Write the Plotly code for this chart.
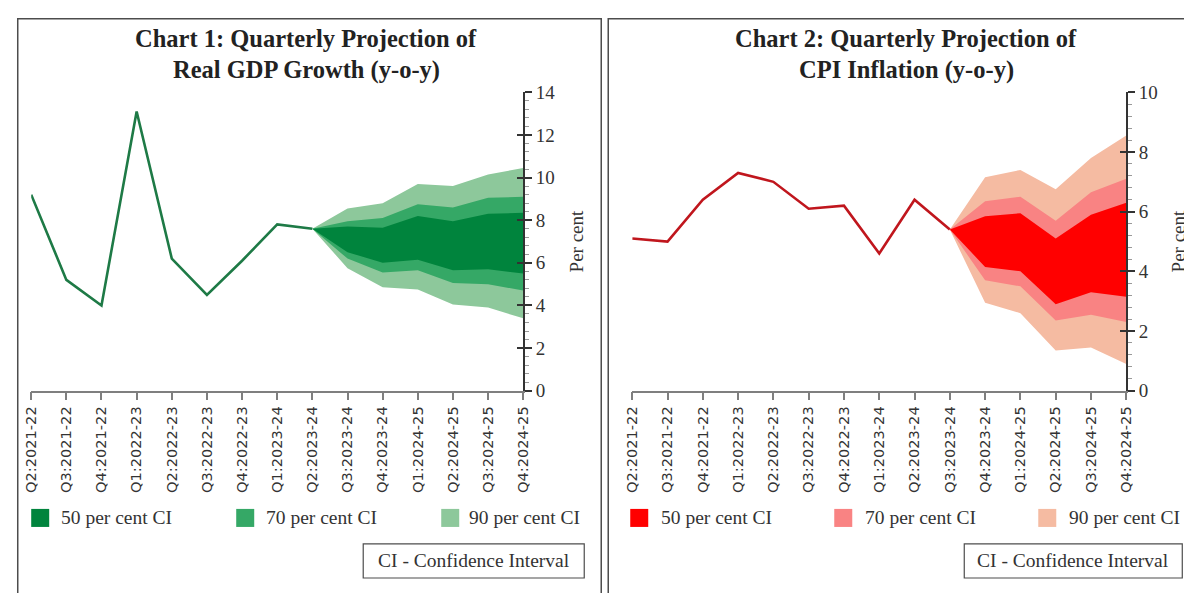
import plotly.graph_objects as go

# Figure is a bit larger than the window; coordinates below are given in
# target-picture pixels and mapped to paper coordinates by px()/py().
W, H = 1220, 625
SX, OX = 0.986, 15.8   # observed placement of the figure in the photographed page
SY, OY = 0.965, 17.8

categories = ["Q2:2021-22", "Q3:2021-22", "Q4:2021-22", "Q1:2022-23", "Q2:2022-23",
              "Q3:2022-23", "Q4:2022-23", "Q1:2023-24", "Q2:2023-24", "Q3:2023-24",
              "Q4:2023-24", "Q1:2024-25", "Q2:2024-25", "Q3:2024-25", "Q4:2024-25"]

# Chart 1: Real GDP growth
gdp_actual = [9.2, 5.2, 4.0, 13.1, 6.2, 4.5, 6.1, 7.8, 7.6]
gdp_fan_cats = categories[8:]
gdp_90_up = [7.6, 8.55, 8.8, 9.7, 9.6, 10.15, 10.45]
gdp_70_up = [7.6, 7.95, 8.1, 8.75, 8.6, 9.05, 9.1]
gdp_50_up = [7.6, 7.7, 7.65, 8.2, 7.95, 8.3, 8.35]
gdp_50_lo = [7.6, 6.5, 6.0, 6.15, 5.65, 5.7, 5.5]
gdp_70_lo = [7.6, 6.2, 5.55, 5.65, 5.05, 5.0, 4.7]
gdp_90_lo = [7.6, 5.75, 4.85, 4.75, 4.05, 3.9, 3.4]

# Chart 2: CPI inflation
cpi_actual = [5.1, 5.0, 6.4, 7.3, 7.0, 6.1, 6.2, 4.6, 6.4, 5.4]
cpi_fan_cats = categories[9:]
cpi_90_up = [5.4, 7.15, 7.4, 6.75, 7.8, 8.55]
cpi_70_up = [5.4, 6.35, 6.5, 5.7, 6.65, 7.1]
cpi_50_up = [5.4, 5.85, 5.95, 5.1, 5.9, 6.3]
cpi_50_lo = [5.4, 4.15, 4.0, 2.9, 3.3, 3.15]
cpi_70_lo = [5.4, 3.7, 3.5, 2.35, 2.55, 2.3]
cpi_90_lo = [5.4, 2.95, 2.6, 1.35, 1.45, 0.9]

ci_labels = ["50 per cent CI", "70 per cent CI", "90 per cent CI"]
green_cols = ["#00843d", "#35a866", "#8dc89b"]
red_cols = ["#ff0000", "#f98383", "#f5bba2"]
green_line = "#1e7a46"
red_line = "#c0161d"

titles = [["Chart 1: Quarterly Projection of", "Real GDP Growth (y-o-y)"],
          ["Chart 2: Quarterly Projection of", "CPI Inflation (y-o-y)"]]

SERIF = "Liberation Serif"
SANS = "DejaVu Sans"

fig = go.Figure()


def fan(xa, ya, cats, bands, cols):
    for (up, lo), col in zip(bands, cols):
        fig.add_trace(go.Scatter(
            x=list(cats) + list(cats[::-1]), y=list(up) + list(lo[::-1]),
            fill="toself", fillcolor=col, mode="lines", line=dict(width=0, color=col),
            xaxis=xa, yaxis=ya, showlegend=False, hoverinfo="skip"))


fig.add_trace(go.Scatter(x=categories, y=[None] * len(categories), xaxis="x", yaxis="y",
                         showlegend=False, mode="markers"))
fig.add_trace(go.Scatter(x=categories, y=[None] * len(categories), xaxis="x2", yaxis="y2",
                         showlegend=False, mode="markers"))

fan("x", "y", gdp_fan_cats,
    [(gdp_90_up, gdp_90_lo), (gdp_70_up, gdp_70_lo), (gdp_50_up, gdp_50_lo)],
    green_cols[::-1])
fig.add_trace(go.Scatter(x=categories[:len(gdp_actual)], y=gdp_actual, mode="lines",
                         line=dict(color=green_line, width=2.6), xaxis="x", yaxis="y",
                         showlegend=False))

fan("x2", "y2", cpi_fan_cats,
    [(cpi_90_up, cpi_90_lo), (cpi_70_up, cpi_70_lo), (cpi_50_up, cpi_50_lo)],
    red_cols[::-1])
fig.add_trace(go.Scatter(x=categories[:len(cpi_actual)], y=cpi_actual, mode="lines",
                         line=dict(color=red_line, width=2.6), xaxis="x2", yaxis="y2",
                         showlegend=False))


def px(x):
    return max((x - OX) / SX, 0.75) / W


def py(y):
    return 1 - max((y - OY) / SY, 0.75) / H


ydom = [py(390), py(92)]
xdom1 = [px(30), px(522)]
xdom2 = [px(631), px(1125)]

xaxis_common = dict(type="category", categoryorder="array", categoryarray=categories,
                    range=[0, len(categories) - 1], showgrid=False, zeroline=False,
                    showline=True, linecolor="#7f7f7f", linewidth=1.5,
                    ticks="outside", ticklen=8, tickcolor="#7f7f7f", tickwidth=1.5,
                    tickangle=-90, tickfont=dict(family=SANS, size=14.6, color="#333333"))
yaxis_common = dict(side="right", showgrid=False, zeroline=False, showline=True,
                    linecolor="#333333", linewidth=1.5, ticks="outside", ticklen=7,
                    tickcolor="#333333", tickwidth=1.5, dtick=2,
                    tickfont=dict(family=SERIF, size=19, color="#333333"),
                    title=dict(text="Per cent", font=dict(family=SERIF, size=19, color="#333333"),
                               standoff=15),
                    minor=dict(dtick=0.4, ticks="outside", ticklen=4, tickcolor="#999999",
                               tickwidth=1))

fig.update_layout(
    width=W, height=H, margin=dict(l=0, r=0, t=0, b=0),
    paper_bgcolor="white", plot_bgcolor="white", showlegend=False,
    xaxis=dict(domain=xdom1, anchor="y", **xaxis_common),
    yaxis=dict(domain=ydom, anchor="x", range=[0, 14], **yaxis_common),
    xaxis2=dict(domain=xdom2, anchor="y2", **xaxis_common),
    yaxis2=dict(domain=ydom, anchor="x2", range=[0, 10], **yaxis_common),
    yaxis3=dict(overlaying="y", anchor="x", side="right", range=[0, 14], dtick=2,
                showgrid=False, zeroline=False, showline=False, ticks="inside", ticklen=6,
                tickcolor="#333333", tickwidth=1.5, showticklabels=False),
    yaxis4=dict(overlaying="y2", anchor="x2", side="right", range=[0, 10], dtick=2,
                showgrid=False, zeroline=False, showline=False, ticks="inside", ticklen=6,
                tickcolor="#333333", tickwidth=1.5, showticklabels=False),
)
fig.add_trace(go.Scatter(x=[categories[0]], y=[None], xaxis="x", yaxis="y3", showlegend=False))
fig.add_trace(go.Scatter(x=[categories[0]], y=[None], xaxis="x2", yaxis="y4", showlegend=False))

shapes = []
annotations = []

for x0, x1 in [(7, 600), (607, 1240)]:
    shapes.append(dict(type="rect", xref="paper", yref="paper", x0=px(x0), x1=px(x1),
                       y0=py(640), y1=py(8), line=dict(color="#4d4d4d", width=1.5)))

for cx, lines in zip([305, 905], titles):
    for yy, t in zip([38, 70], lines):
        annotations.append(dict(text="<b>" + t + "</b>", xref="paper", yref="paper",
                                x=px(cx), y=py(yy), xanchor="center", yanchor="middle",
                                showarrow=False,
                                font=dict(family=SERIF, size=24.5, color="#222222")))

legend_pos = [([30, 235, 440], [58, 263, 466], green_cols),
              ([629, 833, 1037], [658, 862, 1066], red_cols)]
for sqx, txx, cols in legend_pos:
    for sx, tx, col, lab in zip(sqx, txx, cols, ci_labels):
        shapes.append(dict(type="rect", xref="paper", yref="paper", x0=px(sx), x1=px(sx + 18),
                           y0=py(526), y1=py(508), line=dict(width=0), fillcolor=col))
        annotations.append(dict(text=lab, xref="paper", yref="paper", x=px(tx), y=py(517),
                                xanchor="left", yanchor="middle", showarrow=False,
                                font=dict(family=SERIF, size=19.5, color="#333333")))

for x0, x1 in [(362, 583), (963, 1181)]:
    shapes.append(dict(type="rect", xref="paper", yref="paper", x0=px(x0), x1=px(x1),
                       y0=py(577), y1=py(543), line=dict(color="#4d4d4d", width=1.2)))
    annotations.append(dict(text="CI - Confidence Interval", xref="paper", yref="paper",
                            x=px((x0 + x1) / 2), y=py(560), xanchor="center", yanchor="middle",
                            showarrow=False, font=dict(family=SERIF, size=19.5, color="#333333")))

fig.update_layout(shapes=shapes, annotations=annotations)
fig.write_html("out.html")
